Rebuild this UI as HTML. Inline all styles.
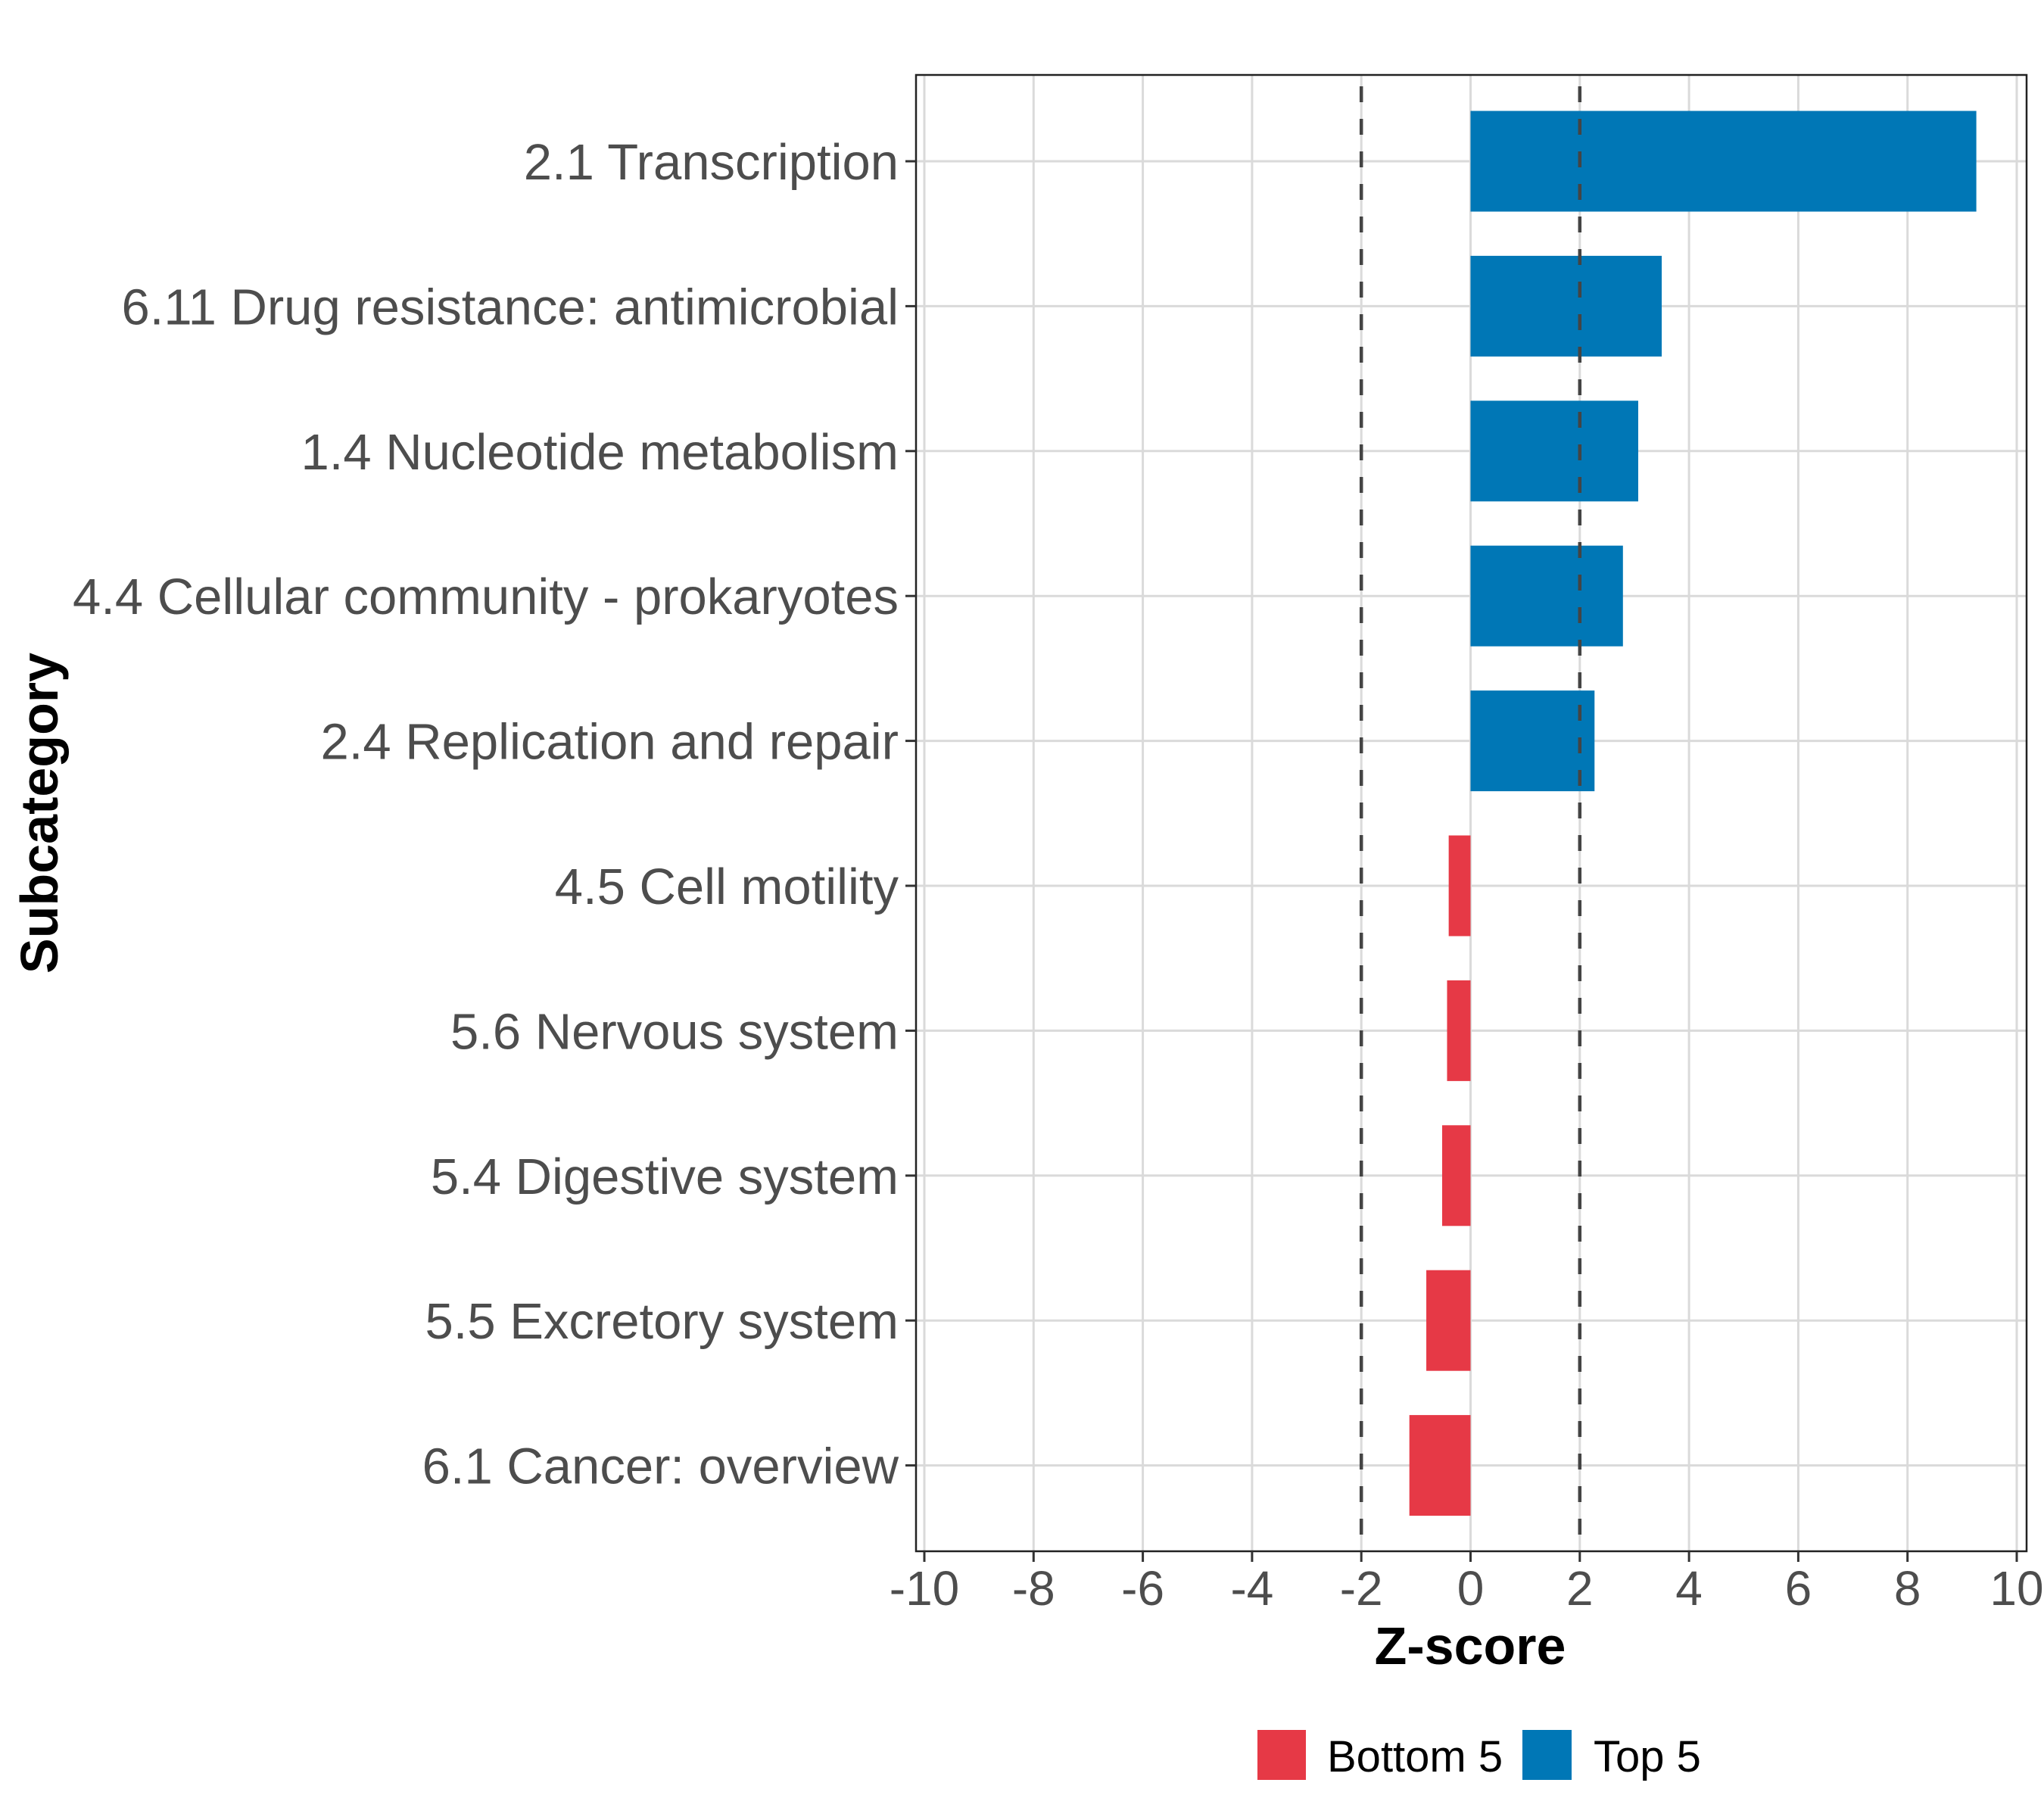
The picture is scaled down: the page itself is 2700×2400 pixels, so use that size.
<!DOCTYPE html>
<html><head><meta charset="utf-8"><style>
body{margin:0;background:#fff}
svg{display:block;font-family:"Liberation Sans",sans-serif}
</style></head><body>
<svg id="chart" width="2700" height="2400" viewBox="0 0 2700 2400" xmlns="http://www.w3.org/2000/svg">
<rect x="0" y="0" width="2700" height="2400" fill="#fff"/>
<g id="grid"></g>
<g id="bars"></g>
<g id="refs"></g>
<rect x="1210" y="99" width="1467" height="1950" fill="none" stroke="#222" stroke-width="2.5"/>
<g id="yaxis"></g>
<g id="xaxis"></g>
<text x="1942" y="2198" font-size="70" font-weight="bold" text-anchor="middle" fill="#000">Z-score</text>
<text transform="translate(76,1074) rotate(-90)" font-size="70" font-weight="bold" text-anchor="middle" fill="#000">Subcategory</text>
<g>
<rect x="1661" y="2285" width="64" height="66" fill="#e63946"/>
<text x="1753" y="2340" font-size="58" fill="#000">Bottom 5</text>
<rect x="2011" y="2285" width="65" height="66" fill="#0077b6"/>
<text x="2105" y="2340" font-size="58" fill="#000">Top 5</text>
</g>
</svg>
<script>
const categories = ["2.1 Transcription","6.11 Drug resistance: antimicrobial","1.4 Nucleotide metabolism","4.4 Cellular community - prokaryotes","2.4 Replication and repair","4.5 Cell motility","5.6 Nervous system","5.4 Digestive system","5.5 Excretory system","6.1 Cancer: overview"];
const zscores = [9.26, 3.5, 3.07, 2.79, 2.27, -0.40, -0.43, -0.52, -0.81, -1.12];
const groups = ["Top 5","Top 5","Top 5","Top 5","Top 5","Bottom 5","Bottom 5","Bottom 5","Bottom 5","Bottom 5"];
const xTicks = [-10,-8,-6,-4,-2,0,2,4,6,8,10];
const refLines = [-2, 2];

const NS = "http://www.w3.org/2000/svg";
const X0 = 1221, X1 = 2664, XMIN = -10, XMAX = 10;
const Y0 = 213, YSTEP = 191.4, BAR_H = 133;
const PT = 99, PB = 2049, PL = 1210;
function xs(v){ return X0 + (v - XMIN) / (XMAX - XMIN) * (X1 - X0); }
function ys(i){ return Y0 + i * YSTEP; }
function mk(tag, attrs, parent){ const e = document.createElementNS(NS, tag); for (const k in attrs) e.setAttribute(k, attrs[k]); parent.appendChild(e); return e; }
const colors = {"Top 5":"#0077b6","Bottom 5":"#e63946"};
const grid = document.getElementById('grid'), bars = document.getElementById('bars'), refs = document.getElementById('refs');
const yaxis = document.getElementById('yaxis'), xaxis = document.getElementById('xaxis');

xTicks.forEach(t => {
  const g = mk('line', {x1: xs(t), x2: xs(t), y1: PT, y2: PB, stroke: '#dadada', 'stroke-width': 3}, grid);
  
  
  const tk = mk('line', {x1: xs(t), x2: xs(t), y1: PB, y2: PB + 14, stroke: '#333', 'stroke-width': 3}, xaxis);
  
  
  const tl = mk('text', {x: xs(t), y: 2120, 'font-size': 64, 'text-anchor': 'middle', fill: '#4d4d4d'}, xaxis);
  tl.textContent = String(t);
  
  
});
categories.forEach((c, i) => {
  const g = mk('line', {x1: PL, x2: 2677, y1: ys(i), y2: ys(i), stroke: '#dadada', 'stroke-width': 3}, grid);
  
  
  const v = zscores[i];
  const b = mk('rect', {x: Math.min(xs(0), xs(v)), y: ys(i) - BAR_H / 2, width: Math.abs(xs(v) - xs(0)), height: BAR_H, fill: colors[groups[i]]}, bars);
  
  
  const tk = mk('line', {x1: PL - 14, x2: PL, y1: ys(i), y2: ys(i), stroke: '#333', 'stroke-width': 3}, yaxis);
  
  
  const tl = mk('text', {x: 1187, y: ys(i) + 24, 'font-size': 67, 'text-anchor': 'end', fill: '#4d4d4d'}, yaxis);
  tl.textContent = c;
  
  
});
refLines.forEach(r => {
  const l = mk('line', {x1: xs(r), x2: xs(r), y1: PT, y2: PB, stroke: '#444', 'stroke-width': 4.5, 'stroke-dasharray': '21 22', 'stroke-dashoffset': '-15'}, refs);
  
  
});
</script>
</body></html>
